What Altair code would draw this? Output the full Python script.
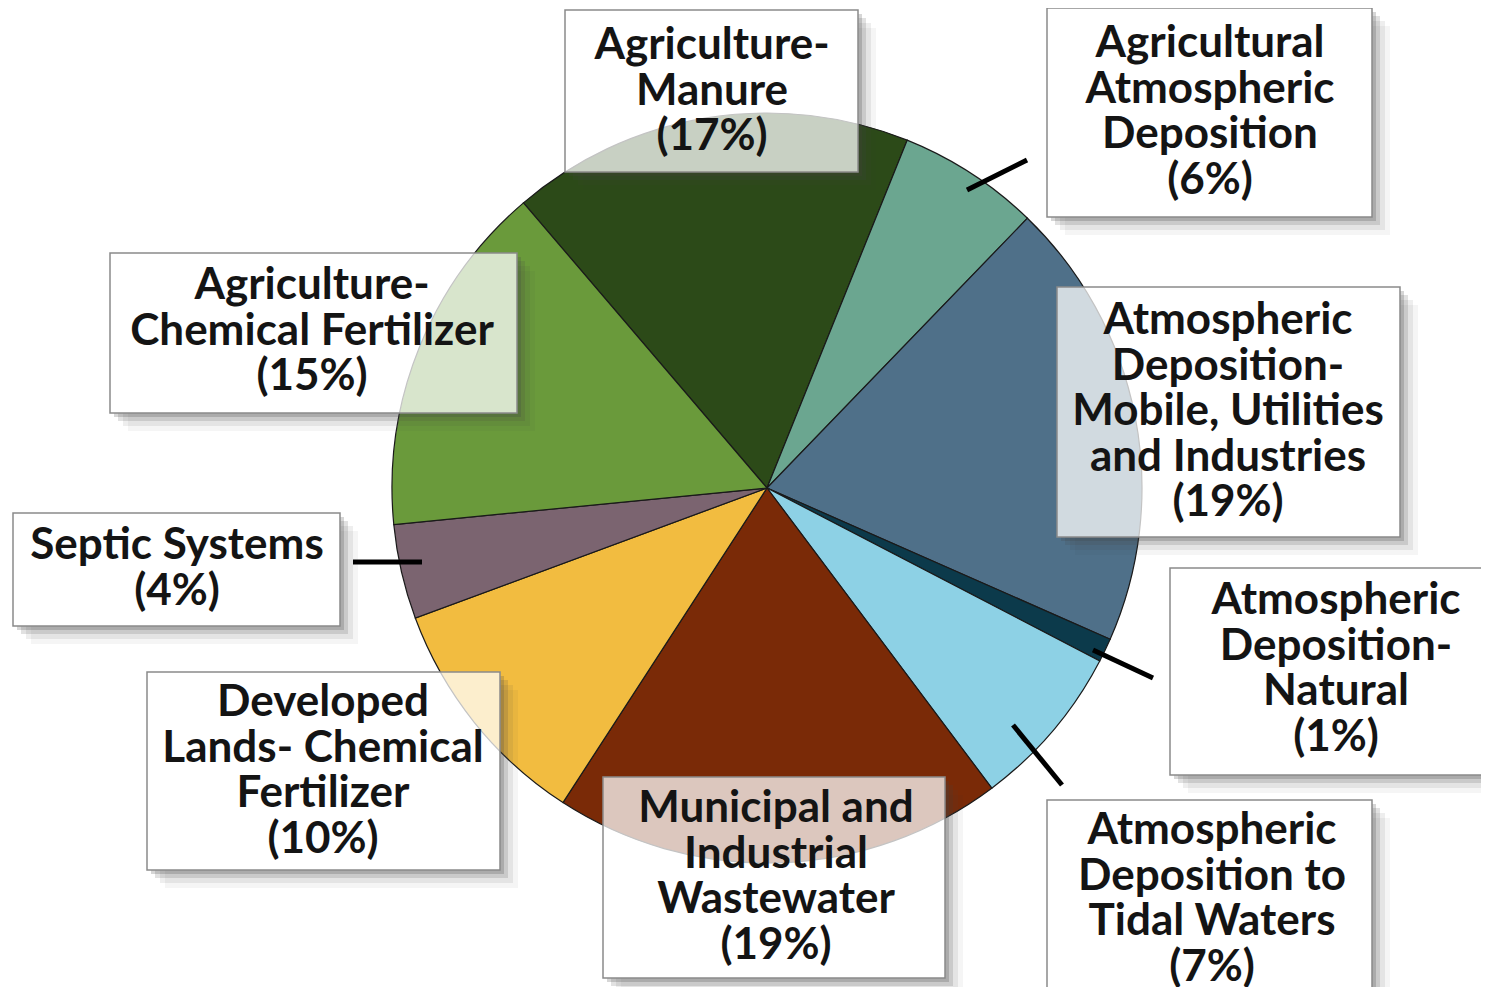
import math
import altair as alt
import pandas as pd

# ---------------- data ----------------
sources = [
    "Agriculture-Manure",
    "Agricultural Atmospheric Deposition",
    "Atmospheric Deposition-Mobile, Utilities and Industries",
    "Atmospheric Deposition-Natural",
    "Atmospheric Deposition to Tidal Waters",
    "Municipal and Industrial Wastewater",
    "Developed Lands- Chemical Fertilizer",
    "Septic Systems",
    "Agriculture-Chemical Fertilizer",
]
shares = [17, 6, 19, 1, 7, 19, 10, 4, 15]
label_text = [
    "Agriculture-\nManure\n(17%)",
    "Agricultural\nAtmospheric\nDeposition\n(6%)",
    "Atmospheric\nDeposition-\nMobile, Utilities\nand Industries\n(19%)",
    "Atmospheric\nDeposition-\nNatural\n(1%)",
    "Atmospheric\nDeposition to\nTidal Waters\n(7%)",
    "Municipal and\nIndustrial\nWastewater\n(19%)",
    "Developed\nLands- Chemical\nFertilizer\n(10%)",
    "Septic Systems\n(4%)",
    "Agriculture-\nChemical Fertilizer\n(15%)",
]
colors = ["#2c4a18", "#6ba690", "#4f7089", "#0c3a4b", "#8dd1e5",
          "#7a2a07", "#f2bc40", "#7b6470", "#6a9a3b"]

# ---------------- layout (page pixels) ----------------
M = 8
W, H = 1473, 979
CX, CY, R = 767 - M, 488 - M, 375
START = math.radians(-40.5)

box_x0 = [565, 1047, 1057, 1170, 1047, 603, 147, 13, 110]
box_y0 = [10, 8, 287, 568, 800, 777, 672, 513, 253]
box_x1 = [858, 1372, 1400, 1487, 1372, 945, 500, 340, 517]
box_y1 = [172, 217, 537, 775, 1000, 978, 870, 626, 413]
text_x = [712, 1210, 1228, 1336, 1212, 776, 323, 177, 312]
text_y = [46, 44, 321, 601, 831, 809, 703, 546, 286]   # first line centre

lead_x = [967, 1093, 1013, 353]
lead_y = [190, 650, 725, 562]
lead_x2 = [1027, 1153, 1062, 422]
lead_y2 = [160, 678, 785, 562]

FONT = "Lato"

# ---------------- tables ----------------
pie_df = pd.DataFrame({"source": sources, "share": shares, "order": list(range(len(sources)))})

boxes = pd.DataFrame({
    "x0": [v - M for v in box_x0], "y0": [v - M for v in box_y0],
    "x1": [v - M for v in box_x1], "y1": [v - M for v in box_y1],
    "tx": [v - M for v in text_x], "ty": [v - M for v in text_y],
    "label": label_text,
})

shadow_rows = []
for d, op in [(4, 0.22), (8, 0.16), (13, 0.09), (18, 0.05)]:
    for _, b in boxes.iterrows():
        shadow_rows.append({"x0": b.x1, "x1": b.x1 + d, "y0": b.y0 + d, "y1": b.y1 + d, "op": op})
        shadow_rows.append({"x0": b.x0 + d, "x1": b.x1, "y0": b.y1, "y1": b.y1 + d, "op": op})
shadows = pd.DataFrame(shadow_rows)

pie_shadow = pd.DataFrame({
    "x": [CX + 10] * 4, "y": [CY + 12] * 4,
    "r": [R + 2, R + 8, R + 14, R + 20], "op": [0.18, 0.12, 0.08, 0.05],
})
pie_shadow["size"] = math.pi * pie_shadow["r"] ** 2

leads = pd.DataFrame({
    "x": [v - M for v in lead_x], "y": [v - M for v in lead_y],
    "x2": [v - M for v in lead_x2], "y2": [v - M for v in lead_y2],
})

xs = alt.Scale(domain=[0, W], range=[0, W], nice=False, zero=False)
ys = alt.Scale(domain=[0, H], range=[0, H], nice=False, zero=False)

# ---------------- layers ----------------
pshadow = alt.Chart(pie_shadow).mark_circle(color="#555555", strokeWidth=0).encode(
    x=alt.X("x:Q", scale=xs, axis=None),
    y=alt.Y("y:Q", scale=ys, axis=None),
    size=alt.Size("size:Q", scale=None, legend=None),
    opacity=alt.Opacity("op:Q", scale=None, legend=None),
)

pie = alt.Chart(pie_df).mark_arc(outerRadius=R, stroke="#1a1a1a", strokeWidth=1.2).encode(
    theta=alt.Theta("share:Q", stack=True,
                    scale=alt.Scale(range=[START, START + 2 * math.pi])),
    color=alt.Color("source:N", scale=alt.Scale(domain=sources, range=colors), legend=None),
    order=alt.Order("order:Q"),
    x=alt.value(CX), y=alt.value(CY),
)

bshadow = alt.Chart(shadows).mark_rect(color="#444444").encode(
    x=alt.X("x0:Q", scale=xs, axis=None), x2="x1:Q",
    y=alt.Y("y0:Q", scale=ys, axis=None), y2="y1:Q",
    opacity=alt.Opacity("op:Q", scale=None, legend=None),
)

box = alt.Chart(boxes).mark_rect(fill="white", fillOpacity=0.74, stroke="#8a8a8a",
                                 strokeWidth=1.5).encode(
    x=alt.X("x0:Q", scale=xs, axis=None), x2="x1:Q",
    y=alt.Y("y0:Q", scale=ys, axis=None), y2="y1:Q",
)

lines = alt.Chart(leads).mark_rule(color="black", strokeWidth=5).encode(
    x=alt.X("x:Q", scale=xs, axis=None), x2="x2:Q",
    y=alt.Y("y:Q", scale=ys, axis=None), y2="y2:Q",
)

text = alt.Chart(boxes).mark_text(font=FONT, fontWeight="bold", fontSize=44,
                                  lineHeight=45.5, lineBreak="\n", color="#141414",
                                  align="center", baseline="middle").encode(
    x=alt.X("tx:Q", scale=xs, axis=None),
    y=alt.Y("ty:Q", scale=ys, axis=None),
    text="label:N",
)

chart = alt.layer(pshadow, pie, bshadow, box, lines, text).properties(
    width=W, height=H, padding=0, autosize=alt.AutoSizeParams(type="none"),
    background="white",
).configure_view(stroke=None)

chart.save("out.html", embed_options={"renderer": "svg", "actions": False})
